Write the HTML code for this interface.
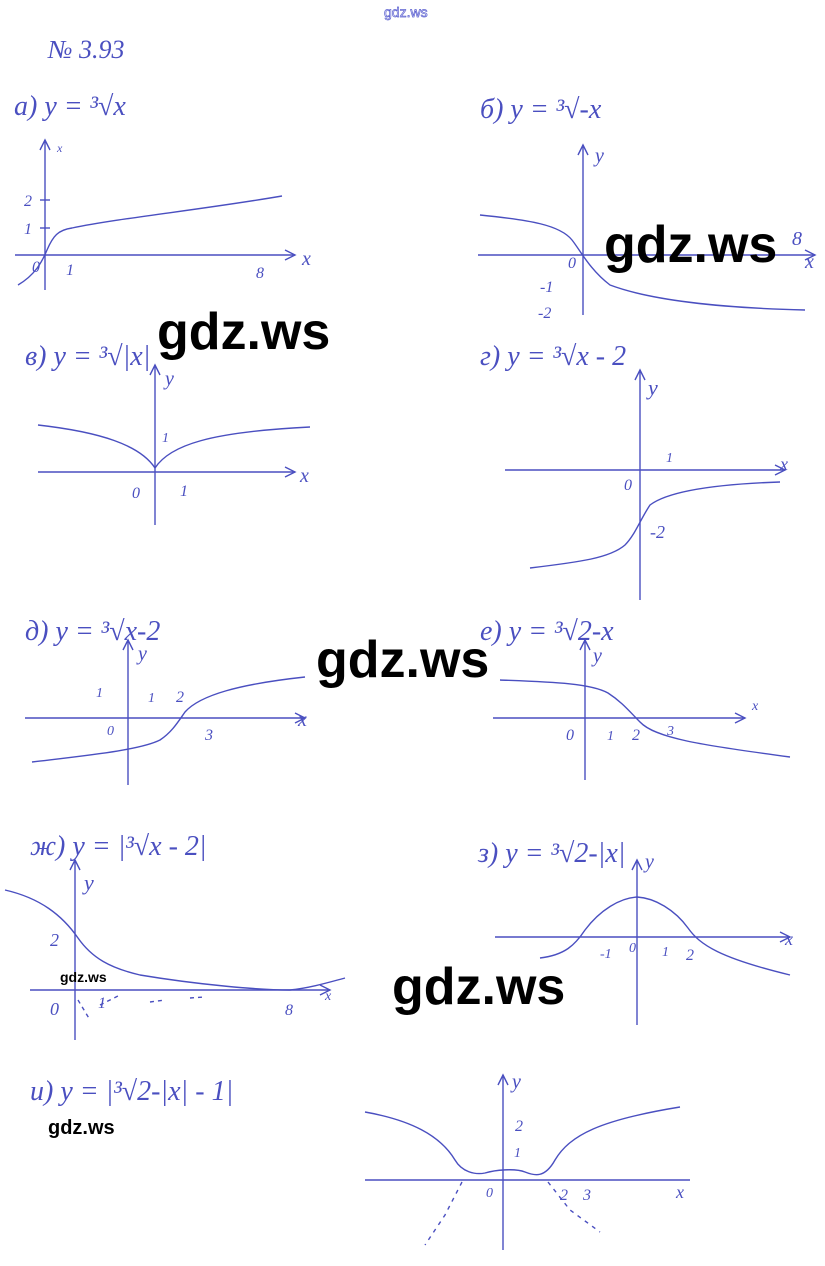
<!DOCTYPE html>
<html><head><meta charset="utf-8"><style>
html,body{margin:0;padding:0;background:#fff}
svg{display:block}
.h{font-family:"Liberation Serif","DejaVu Serif",serif;font-style:italic;fill:#4a4fc0}
.w{font-family:"Liberation Sans","DejaVu Sans",sans-serif;font-weight:bold;fill:#000}
path,line{stroke:#4a4fc0;fill:none;stroke-width:1.4}
</style></head><body>
<svg width="825" height="1266" viewBox="0 0 825 1266" xmlns="http://www.w3.org/2000/svg">
<text x="384" y="17" font-family="Liberation Sans,sans-serif" font-size="14" fill="#fff" stroke="#5a5fd0" stroke-width="0.7">gdz.ws</text>
<text class="h" x="48" y="58" font-size="26">№ 3.93</text>

<!-- a -->
<text class="h" x="14" y="115" font-size="28">а) y = ³√x</text>
<line x1="45" y1="290" x2="45" y2="140"/><path d="M40,150 L45,140 L50,150"/>
<text class="h" x="57" y="152" font-size="12">x</text>
<line x1="15" y1="255" x2="295" y2="255"/><path d="M285,250 L295,255 L285,260"/>
<text class="h" x="302" y="265" font-size="20">x</text>
<line x1="40" y1="200" x2="50" y2="200"/><line x1="40" y1="228" x2="50" y2="228"/>
<text class="h" x="24" y="206" font-size="16">2</text><text class="h" x="24" y="234" font-size="16">1</text>
<text class="h" x="32" y="272" font-size="16">0</text><text class="h" x="66" y="275" font-size="16">1</text><text class="h" x="256" y="278" font-size="16">8</text>
<path d="M18,285 C35,275 42,262 47,250 C53,236 58,230 72,228 C120,218 200,210 282,196"/>

<!-- b -->
<text class="h" x="480" y="118" font-size="28">б)  y = ³√-x</text>
<line x1="583" y1="315" x2="583" y2="145"/><path d="M578,155 L583,145 L588,155"/>
<text class="h" x="595" y="162" font-size="20">y</text>
<line x1="478" y1="255" x2="815" y2="255"/><path d="M805,250 L815,255 L805,260"/>
<text class="h" x="805" y="268" font-size="20">x</text>
<text class="h" x="568" y="268" font-size="16">0</text><text class="h" x="540" y="292" font-size="16">-1</text><text class="h" x="538" y="318" font-size="16">-2</text>
<text class="h" x="792" y="245" font-size="20">8</text>
<path d="M480,215 C530,220 560,225 572,240 C580,250 590,270 610,285 C650,300 720,308 805,310"/>
<text class="w" x="604" y="262" font-size="52">gdz.ws</text>
<text class="w" x="157" y="349" font-size="52">gdz.ws</text>

<!-- v -->
<text class="h" x="25" y="365" font-size="28">в)  y = ³√|x|</text>
<line x1="155" y1="525" x2="155" y2="365"/><path d="M150,375 L155,365 L160,375"/>
<text class="h" x="165" y="385" font-size="20">y</text>
<line x1="38" y1="472" x2="295" y2="472"/><path d="M285,467 L295,472 L285,477"/>
<text class="h" x="300" y="482" font-size="20">x</text>
<text class="h" x="162" y="442" font-size="14">1</text><text class="h" x="132" y="498" font-size="16">0</text><text class="h" x="180" y="496" font-size="16">1</text>
<path d="M38,425 C100,432 140,445 155,468 C170,445 210,432 310,427"/>

<!-- g -->
<text class="h" x="480" y="365" font-size="28">г)  y = ³√x  - 2</text>
<line x1="640" y1="600" x2="640" y2="370"/><path d="M635,380 L640,370 L645,380"/>
<text class="h" x="648" y="395" font-size="22">y</text>
<line x1="505" y1="470" x2="785" y2="470"/><path d="M775,465 L785,470 L775,475"/>
<text class="h" x="780" y="470" font-size="18">x</text>
<text class="h" x="666" y="462" font-size="14">1</text><text class="h" x="624" y="490" font-size="16">0</text><text class="h" x="650" y="538" font-size="18">-2</text>
<path d="M530,568 C580,562 610,558 625,545 C635,535 640,520 650,505 C670,490 720,484 780,482"/>

<!-- d -->
<text class="h" x="25" y="640" font-size="28">д)  y = ³√x-2</text>
<line x1="128" y1="785" x2="128" y2="640"/><path d="M123,650 L128,640 L133,650"/>
<text class="h" x="138" y="660" font-size="20">y</text>
<line x1="25" y1="718" x2="305" y2="718"/><path d="M295,713 L305,718 L295,723"/>
<text class="h" x="298" y="726" font-size="20">x</text>
<text class="h" x="96" y="697" font-size="14">1</text><text class="h" x="148" y="702" font-size="14">1</text><text class="h" x="176" y="702" font-size="16">2</text>
<text class="h" x="107" y="735" font-size="14">0</text><text class="h" x="205" y="740" font-size="16">3</text>
<path d="M32,762 C90,755 140,750 160,740 C172,732 178,722 185,712 C200,695 240,684 305,677"/>
<text class="w" x="316" y="677" font-size="52">gdz.ws</text>

<!-- e -->
<text class="h" x="480" y="640" font-size="28">е)  y = ³√2-x</text>
<line x1="585" y1="780" x2="585" y2="640"/><path d="M580,650 L585,640 L590,650"/>
<text class="h" x="593" y="662" font-size="20">y</text>
<line x1="493" y1="718" x2="745" y2="718"/><path d="M735,713 L745,718 L735,723"/>
<text class="h" x="752" y="710" font-size="14">x</text>
<text class="h" x="566" y="740" font-size="16">0</text><text class="h" x="607" y="740" font-size="14">1</text><text class="h" x="632" y="740" font-size="16">2</text><text class="h" x="667" y="735" font-size="14">3</text>
<path d="M500,680 C550,682 590,683 608,693 C622,702 630,712 640,722 C655,738 700,745 790,757"/>

<!-- zh -->
<text class="h" x="30" y="855" font-size="28">ж)  y = |³√x - 2|</text>
<line x1="75" y1="1040" x2="75" y2="860"/><path d="M70,870 L75,860 L80,870"/>
<text class="h" x="84" y="890" font-size="22">y</text>
<line x1="30" y1="990" x2="330" y2="990"/><path d="M320,985 L330,990 L320,995"/>
<text class="h" x="325" y="1000" font-size="14">x</text>
<text class="h" x="50" y="946" font-size="18">2</text><text class="h" x="50" y="1015" font-size="18">0</text><text class="h" x="98" y="1008" font-size="16">1</text><text class="h" x="285" y="1015" font-size="16">8</text>
<path d="M5,890 C40,898 62,915 78,938 C92,958 110,968 140,975 C200,985 260,990 290,990 C310,988 330,982 345,978"/>
<path d="M78,1000 L90,1020 M100,1005 L120,995 M150,1002 L165,1000 M190,998 L205,997" stroke-dasharray="4 4"/>
<text class="w" x="60" y="982" font-size="14">gdz.ws</text>

<!-- z -->
<text class="h" x="478" y="862" font-size="28">з)  y = ³√2-|x|</text>
<line x1="637" y1="1025" x2="637" y2="860"/><path d="M632,870 L637,860 L642,870"/>
<text class="h" x="645" y="868" font-size="20">y</text>
<line x1="495" y1="937" x2="790" y2="937"/><path d="M780,932 L790,937 L780,942"/>
<text class="h" x="785" y="945" font-size="18">x</text>
<text class="h" x="600" y="958" font-size="14">-1</text><text class="h" x="629" y="952" font-size="14">0</text><text class="h" x="662" y="956" font-size="14">1</text><text class="h" x="686" y="960" font-size="16">2</text>
<path d="M540,958 C565,955 575,945 585,930 C600,910 620,898 637,897 C655,898 675,910 688,928 C700,945 720,958 790,975"/>
<text class="w" x="392" y="1004" font-size="52">gdz.ws</text>

<!-- i -->
<text class="h" x="30" y="1100" font-size="28">и)  y = |³√2-|x|  - 1|</text>
<text class="w" x="48" y="1134" font-size="20">gdz.ws</text>
<line x1="503" y1="1250" x2="503" y2="1075"/><path d="M498,1085 L503,1075 L508,1085"/>
<text class="h" x="512" y="1088" font-size="20">y</text>
<line x1="365" y1="1180" x2="690" y2="1180"/>
<text class="h" x="676" y="1198" font-size="18">x</text>
<text class="h" x="515" y="1131" font-size="16">2</text><text class="h" x="514" y="1157" font-size="14">1</text>
<text class="h" x="486" y="1197" font-size="14">0</text><text class="h" x="560" y="1200" font-size="16">2</text><text class="h" x="583" y="1200" font-size="16">3</text>
<path d="M365,1112 C410,1120 440,1135 455,1160 C462,1172 475,1175 485,1173 C495,1170 515,1168 525,1172 C535,1176 545,1178 555,1160 C570,1135 600,1120 680,1107"/>
<path d="M462,1182 L445,1215 L425,1245 M548,1182 L570,1210 L600,1232" stroke-dasharray="4 5"/>
</svg>
</body></html>
